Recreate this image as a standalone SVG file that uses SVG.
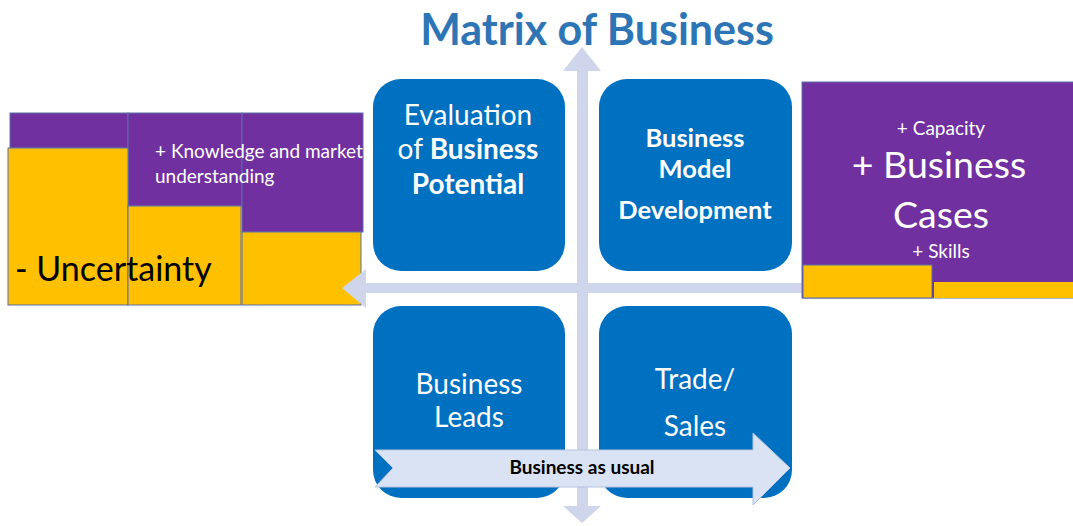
<svg xmlns="http://www.w3.org/2000/svg" width="1073" height="526" viewBox="0 0 1073 526">
<style>
text{font-family:Lato,"Liberation Sans",sans-serif}
.box{fill:#0070C0}
.w{fill:#fff}
.pur{fill:#7030A0;stroke:#5a6fa8;stroke-width:1}
.yel{fill:#FFC000;stroke:#5a6fa8;stroke-width:1}
.axis{fill:#CFD5EA}
</style>
<rect width="1073" height="526" fill="#fff"/>
<g id="title"><text x="597" y="45" text-anchor="middle" font-size="43" font-weight="bold" fill="#2E75B6">Matrix of Business</text></g>
<g id="left-block">
<rect class="pur" x="10" y="113" width="118" height="35"/>
<rect class="pur" x="128" y="113" width="114" height="93"/>
<rect class="pur" x="242" y="113" width="121" height="119"/>
<rect class="yel" x="8" y="148" width="120" height="157"/>
<rect class="yel" x="128" y="206" width="113" height="99"/>
<rect class="yel" x="242" y="232" width="119" height="73"/>
<text class="w" x="155" y="158" font-size="19">+ Knowledge and market</text>
<text class="w" x="155" y="183" font-size="19">understanding</text>
<text x="15" y="281" font-size="34" fill="#000">- Uncertainty</text>
</g>
<g id="connectors">
<path id="h-axis" class="axis" d="M366,269 L366,283 L812,283 L812,293 L366,293 L366,308 L342,288 Z"/>
<path id="v-axis" class="axis" d="M582,47 L601,71 L588,71 L588,506 L601,506 L582,523 L563,506 L577,506 L577,71 L563,71 Z"/>
</g>
<g id="right-block">
<rect x="802" y="82" width="275" height="216" fill="#7030A0" stroke="#5a6fa8" stroke-width="1"/>
<rect x="934" y="282" width="140" height="16" fill="#FFC000"/>
<rect class="yel" x="803" y="265" width="129" height="33" stroke-width="1.5"/>
<text class="w" x="941" y="135" font-size="19" text-anchor="middle">+ Capacity</text>
<text class="w" x="939" y="178" font-size="37.5" text-anchor="middle">+ Business</text>
<text class="w" x="941" y="228" font-size="37.5" text-anchor="middle">Cases</text>
<text class="w" x="941" y="258" font-size="19" text-anchor="middle">+ Skills</text>
</g>
<g id="node-evaluation">
<rect class="box" x="373" y="79" width="192" height="192" rx="28"/>
<text class="w" x="468" y="125" font-size="28" text-anchor="middle">Evaluation</text>
<text class="w" x="468" y="159" font-size="28" text-anchor="middle">of <tspan font-weight="bold">Business</tspan></text>
<text class="w" x="468" y="194" font-size="28" text-anchor="middle" font-weight="bold">Potential</text>
</g>
<g id="node-bmd">
<rect class="box" x="599" y="79" width="193" height="192" rx="28"/>
<text class="w" x="695" y="147" font-size="25.5" text-anchor="middle" font-weight="bold">Business</text>
<text class="w" x="695" y="178" font-size="25.5" text-anchor="middle" font-weight="bold">Model</text>
<text class="w" x="695" y="219" font-size="25.5" text-anchor="middle" font-weight="bold">Development</text>
</g>
<g id="node-leads">
<rect class="box" x="373" y="306" width="192" height="192" rx="28"/>
<text class="w" x="469" y="394" font-size="28" text-anchor="middle">Business</text>
<text class="w" x="469" y="427" font-size="28" text-anchor="middle">Leads</text>
</g>
<g id="node-trade">
<rect class="box" x="599" y="306" width="193" height="192" rx="28"/>
<text class="w" x="695" y="389" font-size="28" text-anchor="middle">Trade/</text>
<text class="w" x="695" y="436" font-size="28" text-anchor="middle">Sales</text>
</g>
<g id="bau-arrow">
<path d="M375,450 L753,450 L753,433 L790,468 L753,505 L753,487 L375,487 L393,468 Z" fill="#DAE3F3" stroke="#B4C2DF" stroke-width="1"/>
<text x="582" y="474" font-size="19" font-weight="bold" text-anchor="middle" fill="#000">Business as usual</text>
</g>
</svg>
